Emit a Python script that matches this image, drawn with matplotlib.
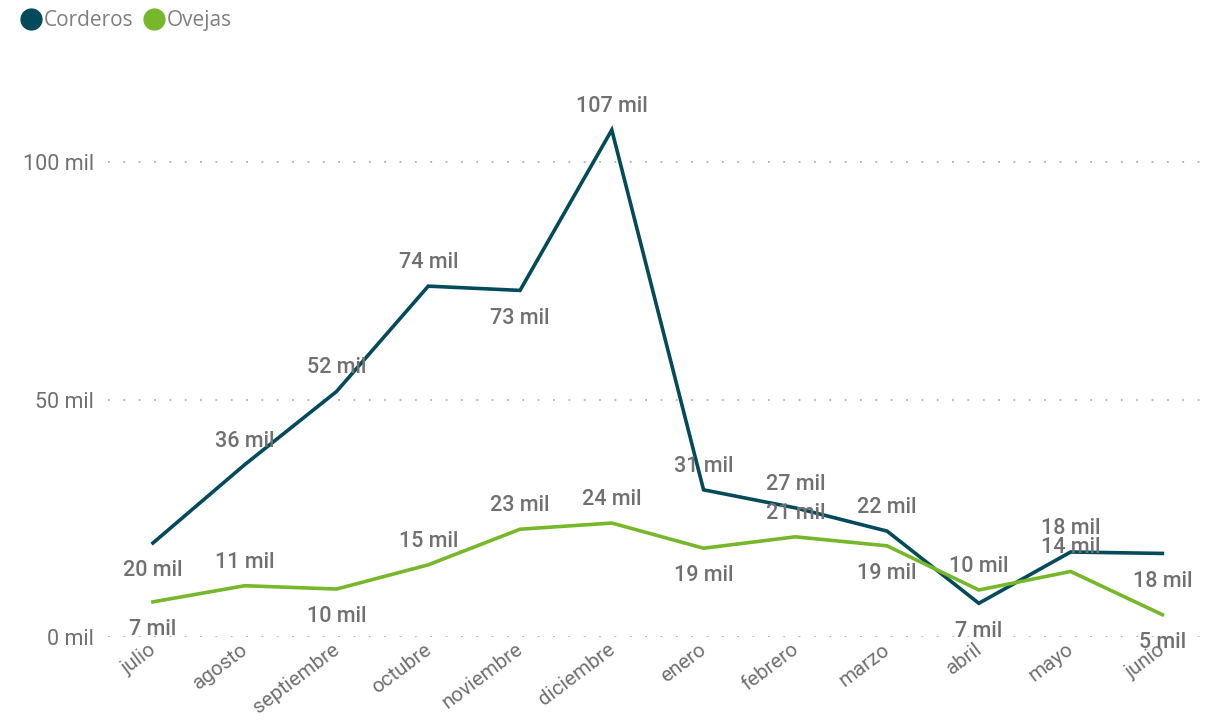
import matplotlib
matplotlib.use("Agg")
import matplotlib.pyplot as plt
import matplotlib.transforms as mtransforms
from matplotlib.lines import Line2D

# datos (miles de cabezas)
meses = ["julio", "agosto", "septiembre", "octubre", "noviembre", "diciembre",
         "enero", "febrero", "marzo", "abril", "mayo", "junio"]
corderos = [19.8, 36.3, 51.7, 73.9, 73.0, 106.8, 31.0, 27.2, 22.3, 7.1, 17.9, 17.6]
ovejas = [7.4, 10.8, 10.1, 15.2, 22.7, 24.0, 18.7, 21.1, 19.2, 9.9, 13.8, 4.7]
y_ticks = [0, 50, 100]

# posicion de etiquetas: 1 = arriba, -1 = abajo
pos_corderos = [-1, 1, 1, 1, -1, 1, 1, 1, 1, -1, 1, -1]
pos_ovejas = [-1, 1, -1, 1, 1, 1, -1, 1, -1, 1, 1, -1]

C_CORD = "#034A5B"
C_OVE = "#77B72A"
GRIS = "#707070"
FONT = "Roboto"

fig = plt.figure(figsize=(12.06, 7.23), dpi=100)
ax = fig.add_axes([108 / 1206, (723 - 637) / 723, (1200 - 108) / 1206, (637 - 91) / 723])

x = list(range(len(meses)))
ax.plot(x, corderos, color=C_CORD, lw=2.6, solid_joinstyle="miter", zorder=3)
ax.plot(x, ovejas, color=C_OVE, lw=2.6, solid_joinstyle="miter", zorder=3)

# etiquetas de datos
for serie, posic in [(corderos, pos_corderos), (ovejas, pos_ovejas)]:
    for xi, v, p in zip(x, serie, posic):
        off = 17 if p > 0 else -20
        ax.annotate(f"{round(v)} mil", (xi, v), xytext=(0, off), textcoords="offset points",
                    ha="center", va="center", fontsize=15.5, color=GRIS,
                    family=FONT, weight="medium", zorder=4)

ax.set_xlim(-0.49, 11.41)
ax.set_ylim(0, 115)

for yt in y_ticks:
    ax.axhline(yt, color="#B0B0B0", lw=1.3, ls=(0, (1, 7.5)), zorder=1)

ax.set_yticks(y_ticks)
ax.set_yticklabels([f"{t} mil" for t in y_ticks], fontsize=15.5, color=GRIS, family=FONT)
ax.set_xticks(x)
ax.set_xticklabels(meses, rotation=37, ha="right", rotation_mode="anchor",
                   fontsize=14.8, color=GRIS, family=FONT)
ax.tick_params(length=0, pad=10)
ax.tick_params(axis="x", pad=2)
shift = mtransforms.ScaledTranslation(-5 / 100, 0, fig.dpi_scale_trans)
for lbl in ax.get_xticklabels():
    lbl.set_transform(lbl.get_transform() + shift)
for s in ax.spines.values():
    s.set_visible(False)

# leyenda
handles = [Line2D([], [], marker="o", ls="", ms=15, color=C_CORD),
           Line2D([], [], marker="o", ls="", ms=15, color=C_OVE)]
leg = fig.legend(handles, ["Corderos", "Ovejas"], loc="upper left", bbox_to_anchor=(-0.002, 1.012),
                 ncol=2, frameon=False, handletextpad=-0.1, columnspacing=0.3,
                 handlelength=1.4, prop={"family": "Open Sans", "size": 15})
for t in leg.get_texts():
    t.set_color("#808080")

fig.savefig("out.png", dpi=100)
